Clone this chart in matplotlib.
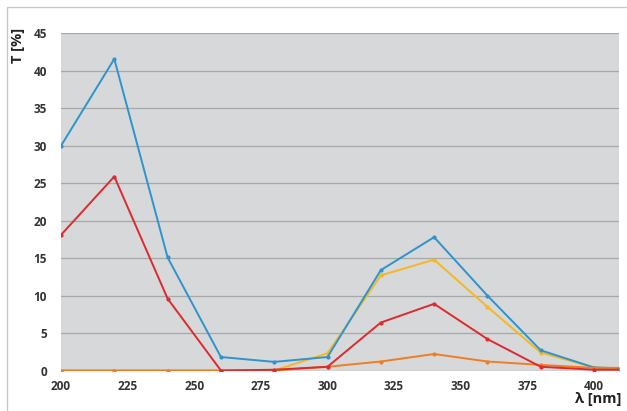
import matplotlib
matplotlib.use("Agg")
import matplotlib.pyplot as plt
from matplotlib.patches import Rectangle

wavelength = [200, 220, 240, 260, 280, 300, 320, 340, 360, 380, 400, 410]
blue = [30.0, 41.6, 15.1, 1.8, 1.15, 1.8, 13.4, 17.8, 10.0, 2.7, 0.4, 0.3]
yellow = [0.0, 0.0, 0.0, 0.0, 0.0, 2.3, 12.7, 14.8, 8.5, 2.4, 0.4, 0.3]
red = [18.1, 25.9, 9.6, 0.0, 0.1, 0.5, 6.4, 8.9, 4.2, 0.5, 0.1, 0.1]
orange = [0.0, 0.0, 0.0, 0.0, 0.0, 0.5, 1.2, 2.2, 1.2, 0.75, 0.35, 0.35]

x_ticks = [200, 225, 250, 275, 300, 325, 350, 375, 400]
y_ticks = [0, 5, 10, 15, 20, 25, 30, 35, 40, 45]

W, H = 627, 411
fig = plt.figure(figsize=(W / 100, H / 100), dpi=100)
fig.patch.set_facecolor("white")

# outer frame
fig.patches.append(Rectangle((7 / W, -0.05), 1.2, 1 - 7 / H + 0.05, transform=fig.transFigure,
                             fill=False, edgecolor="#c8c8c8", linewidth=1.0))

left, right, top, bottom = 61, 619, 33.5, 370.5
ax = fig.add_axes([left / W, 1 - bottom / H, (right - left) / W, (bottom - top) / H])
ax.set_facecolor("#d6d8da")
ax.set_xlim(200, 200 + (right - left) / 53.3 * 20)
ax.set_ylim(0, 45)

for s in ax.spines.values():
    s.set_visible(False)

ax.set_yticks(y_ticks)
ax.set_xticks(x_ticks)
ax.grid(axis="y", color="#a6a8aa", linewidth=0.9)
ax.set_axisbelow(True)
ax.tick_params(length=0, labelsize=8.5, colors="#333333")
for lab in ax.get_xticklabels() + ax.get_yticklabels():
    lab.set_fontweight("bold")
    lab.set_family("Open Sans")
ax.tick_params(axis="x", pad=7)
ax.tick_params(axis="y", pad=10)

kw = dict(linewidth=1.4, marker="o", markersize=2.0, clip_on=True)
ax.plot(wavelength, yellow, color="#f5b822", zorder=3, **kw)
ax.plot(wavelength, blue, color="#2f93cc", zorder=4, **kw)
ax.plot(wavelength, orange, color="#f07d22", zorder=5, **kw)
ax.plot(wavelength, red, color="#dd2a2e", zorder=6, **kw)

fig.text(18 / W, 1 - 45 / H, "T [%]", rotation=90, ha="center", va="center",
         fontsize=10.5, fontweight="bold", family="Open Sans", color="#222222")
fig.text(598 / W, 1 - 399 / H, "λ [nm]", ha="center", va="center",
         fontsize=10.5, fontweight="bold", family="Open Sans", color="#222222")

fig.savefig("out.png", dpi=100, facecolor="white")
